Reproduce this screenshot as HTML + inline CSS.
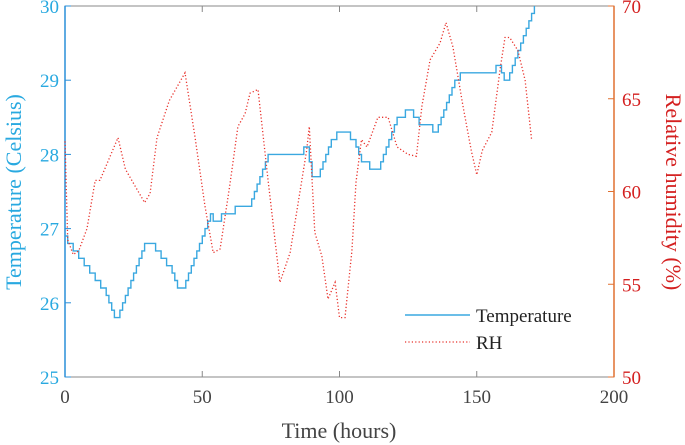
<!DOCTYPE html>
<html><head><meta charset="utf-8"><style>
body{margin:0;background:#fff}
svg{display:block;font-family:"Liberation Serif",serif}
</style></head><body>
<svg id="c" width="685" height="445"></svg>
<script>
const xTicks=[0,50,100,150,200];
const tTicks=[25,26,27,28,29,30];
const rhTicks=[50,55,60,65,70];
const tempHours=[0,1,3,5,7,9,11,13,15,16, 17,18,20,21,22,23,24,25,26,27, 28,29,33,35,37,39,40,41,44,45, 46,47,48,49,50,51,52,53,54,57, 62,68,69,70,71,72,73,74,87,89, 90,93,94,95,96,97,99,104,106,107, 108,111,115,116,117,118,119,120,121,124, 127,129,134,136,137,138,139,140,141,142, 144,157,159,160,162,163,164,165,166,167, 168,169,170,171];
const tempVals=[26.9,26.8,26.7,26.6,26.5,26.4,26.3,26.2,26.1,26.0, 25.9,25.8,25.9,26.0,26.1,26.2,26.3,26.4,26.5,26.6, 26.7,26.8,26.7,26.6,26.5,26.4,26.3,26.2,26.3,26.4, 26.5,26.6,26.7,26.8,26.9,27.0,27.1,27.2,27.1,27.2, 27.3,27.4,27.5,27.6,27.7,27.8,27.9,28.0,28.1,27.9, 27.7,27.8,27.9,28.0,28.1,28.2,28.3,28.2,28.1,28.0, 27.9,27.8,27.9,28.0,28.1,28.2,28.3,28.4,28.5,28.6, 28.5,28.4,28.3,28.4,28.5,28.6,28.7,28.8,28.9,29.0, 29.1,29.2,29.1,29.0,29.1,29.2,29.3,29.4,29.5,29.6, 29.7,29.8,29.9,30.0];
const rhHours=[0,1,3,5,8,11,12.7,19.3,22,29,31,33.5,38,43.7,47.4,51,54,56.5,60,63,65.6,67.4,70.3,74,78.3,82,88,89,91,93.6,95.8,98.4,100,102,104.5,106,108,110,114,117.7,121,125,128,130,133,136.6,138.8,141.3,145,148,150,152,155.5,158.5,160.3,162,165,167.6,170];
const rhVals=[62.7,57.4,56.6,56.8,58.0,60.6,60.6,62.9,61.2,59.4,59.9,62.9,64.9,66.4,62.9,59.2,56.7,56.9,60.3,63.5,64.2,65.3,65.5,60.6,55.1,56.7,62.2,63.5,57.8,56.5,54.2,55.1,53.2,53.2,56.8,60.5,62.8,62.4,64.0,64.0,62.4,62.0,61.9,64.6,67.1,68.0,69.1,67.8,64.6,62.2,60.9,62.2,63.2,66.6,68.3,68.3,67.6,66.0,62.8];
const L=65,R=614,T=6,B=377;
const X=h=>L+h/200*(R-L);
const YT=t=>B-(t-25)/5*(B-T);
const YR=r=>B-(r-50)/20*(B-T);
const svg=document.getElementById('c');const NS='http://www.w3.org/2000/svg';
function mk(tag,a,txt){const e=document.createElementNS(NS,tag);for(const k in a)e.setAttribute(k,a[k]);if(txt!==undefined)e.textContent=txt;svg.appendChild(e);return e;}
let e;
e=mk('rect',{x:L,y:T,width:R-L,height:B-T,fill:'none',stroke:'#888','stroke-width':1});


xTicks.forEach(v=>{
 e=mk('line',{x1:X(v),x2:X(v),y1:B,y2:B-6,stroke:'#888'});
 
 
 e=mk('line',{x1:X(v),x2:X(v),y1:T,y2:T+6,stroke:'#888'});
 
 
 e=mk('text',{x:X(v),y:B+26,'text-anchor':'middle','font-size':19,fill:'#444'},String(v));
 
 
});
e=mk('line',{x1:L,x2:L,y1:T,y2:B,stroke:'#2a8fd8','stroke-width':1.5});


tTicks.forEach(v=>{
 e=mk('line',{x1:L,x2:L+6,y1:YT(v),y2:YT(v),stroke:'#2a8fd8'});
 
 
 e=mk('text',{x:L-6,y:YT(v)+7,'text-anchor':'end','font-size':19,fill:'#29a9e0'},String(v));
 
 
});
e=mk('line',{x1:R,x2:R,y1:T,y2:B,stroke:'#e07030','stroke-width':1.5});


rhTicks.forEach(v=>{
 e=mk('line',{x1:R,x2:R-6,y1:YR(v),y2:YR(v),stroke:'#e07030'});
 
 
 e=mk('text',{x:R+8,y:YR(v)+7,'font-size':19,fill:'#d42020'},String(v));
 
 
});
e=mk('text',{x:339,y:438,'text-anchor':'middle','font-size':22,fill:'#444'},'Time (hours)');


e=mk('text',{x:0,y:0,'text-anchor':'middle','font-size':22,fill:'#29a9e0',transform:'translate(21,192) rotate(-90)'},'Temperature (Celsius)');


e=mk('text',{x:0,y:0,'text-anchor':'middle','font-size':22,fill:'#d42020',transform:'translate(666,192) rotate(90)'},'Relative humidity (%)');


let d='';
tempHours.forEach((h,i)=>{d+=(i?'H'+X(h).toFixed(1)+'V':'M'+X(h).toFixed(1)+','); d+=YT(tempVals[i]).toFixed(1);});
e=mk('path',{d:d,fill:'none',stroke:'#3aa8e0','stroke-width':1.4});


e=mk('polyline',{points:rhHours.map((h,i)=>X(h).toFixed(1)+','+YR(rhVals[i]).toFixed(1)).join(' '),fill:'none',stroke:'#e8302a','stroke-width':1.3,'stroke-dasharray':'1.2 2.2'});


e=mk('line',{x1:405,x2:470,y1:315,y2:315,stroke:'#3aa8e0','stroke-width':1.4});


e=mk('text',{x:476,y:322,'font-size':19,fill:'#222'},'Temperature');


e=mk('line',{x1:405,x2:470,y1:342,y2:342,stroke:'#e8302a','stroke-width':1.3,'stroke-dasharray':'1.2 2.2'});


e=mk('text',{x:476,y:349,'font-size':19,fill:'#222'},'RH');


</script>
</body></html>
